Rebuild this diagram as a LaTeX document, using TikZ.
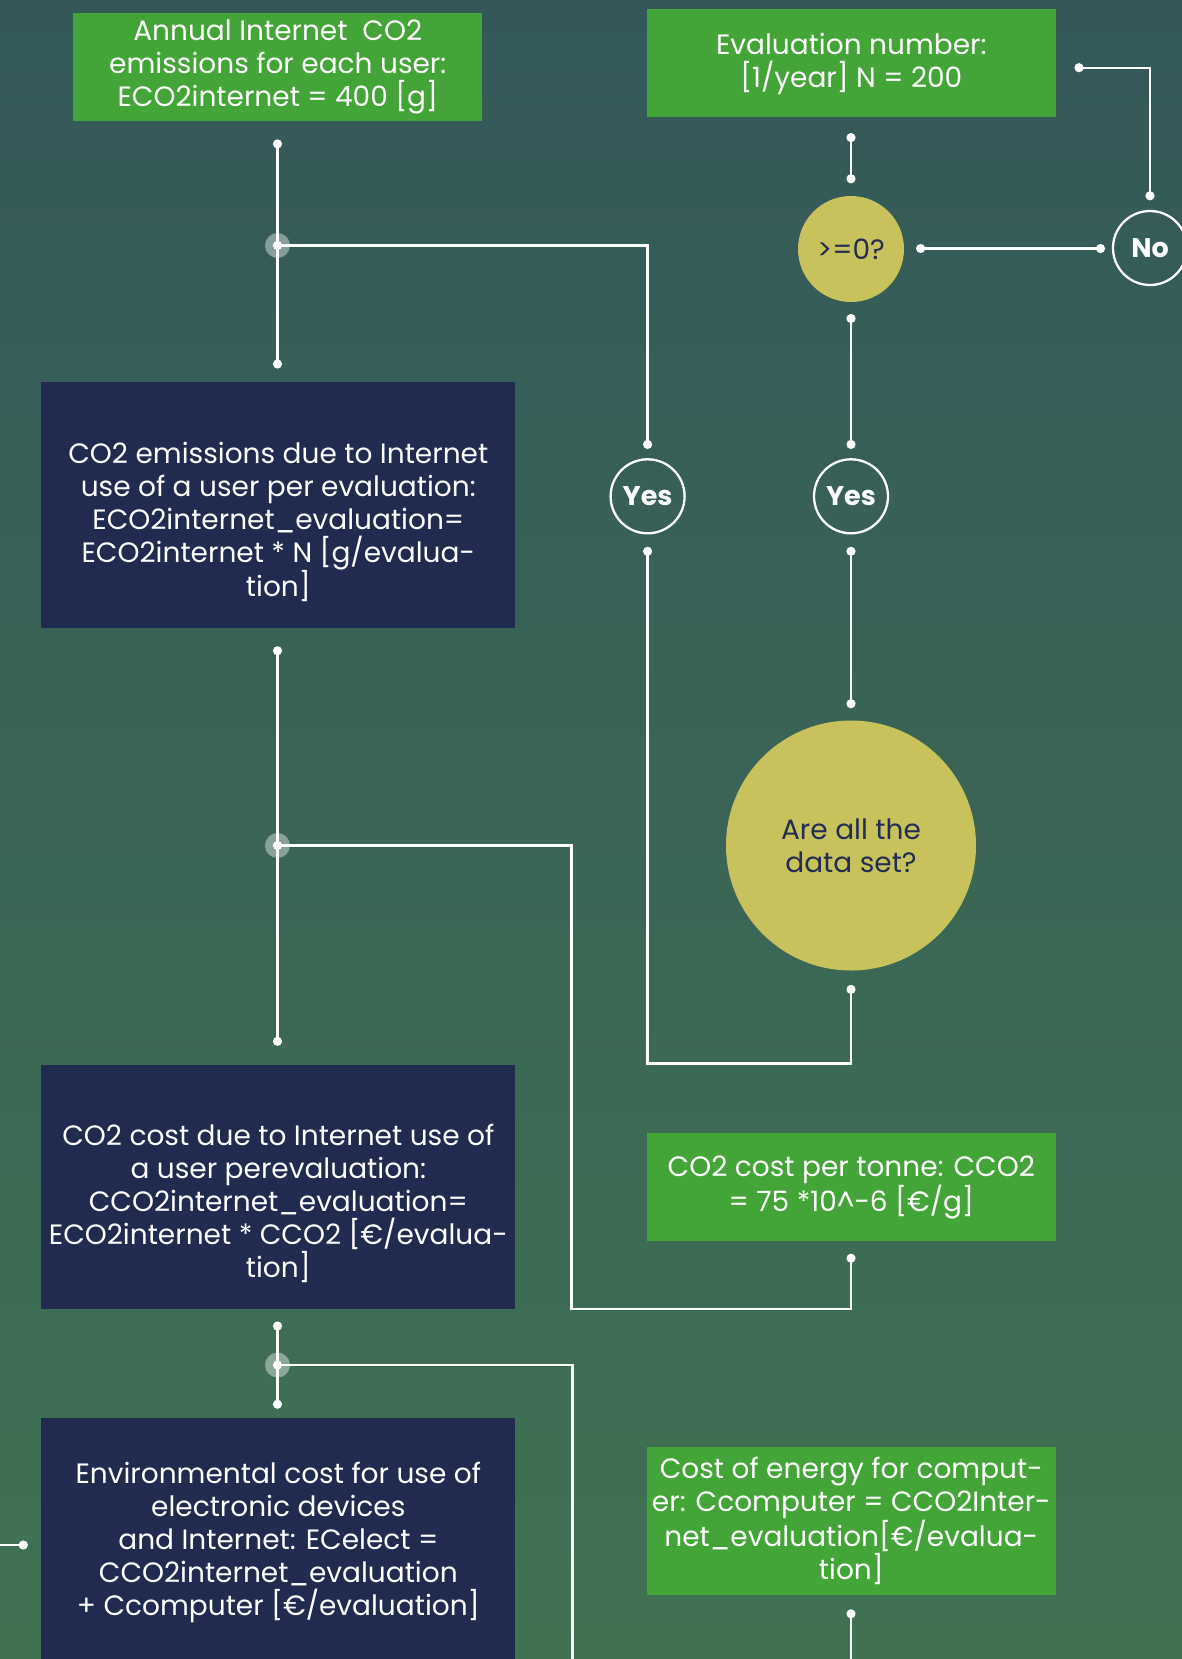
\documentclass[tikz,border=0pt]{standalone}
\usepackage{fontspec}
\setmainfont{Poppins}
\usetikzlibrary{calc}
\definecolor{bgtop}{RGB}{52,88,90}
\definecolor{bgbot}{RGB}{64,114,82}
\definecolor{boxgreen}{RGB}{67,165,55}
\definecolor{boxnavy}{RGB}{33,43,80}
\definecolor{qyellow}{RGB}{200,194,92}
\definecolor{qtext}{RGB}{35,44,82}
\tikzset{
  txtfont/.style={font=\fontsize{28}{33}\selectfont},
  greenbox/.style={fill=boxgreen, text=white, minimum width=409pt, align=center, inner sep=0pt, txtfont},
  navybox/.style={fill=boxnavy, minimum width=474pt, inner sep=0pt},
  navytxt/.style={text=white, align=center, inner sep=0pt, txtfont},
  answer/.style={circle, draw=white, line width=2.3pt, minimum size=74pt, inner sep=0pt, text=white, font=\bfseries\fontsize{27}{30}\selectfont},
  question/.style={circle, fill=qyellow, text=qtext, inner sep=0pt, align=center, txtfont},
  wire/.style={draw=white, line width=2.3pt},
  halo/.style={fill=white, fill opacity=0.4},
}
\begin{document}
\begin{tikzpicture}[x=1pt,y=-1pt]
\useasboundingbox (0,0) rectangle (1182,1659);
\clip (0,0) rectangle (1182,1659);
\shade[top color=bgtop, bottom color=bgbot] (0,0) rectangle (1182,1659);

% boxes
\node[greenbox, minimum height=108pt] (A) at (277.8,67) {Annual Internet\ \ CO2\\emissions for each user:\\ECO2internet = 400 [g]};
\node[greenbox, minimum height=108pt] (B) at (851.3,63.5) {Evaluation number:\\{}[1/year] N = 200};
\node[navybox, minimum height=245.5pt] (C) at (278.3,504.8) {};
\node[navytxt] (Ct) at (278.3,522) {CO2 emissions due to Internet\\use of a user per evaluation:\\ECO2internet\_evaluation=\\ECO2internet * N [g/evalua-\\tion]};
\node[navybox, minimum height=244.4pt] (D) at (278.3,1186.8) {};
\node[navytxt] (Dt) at (278.3,1203) {CO2 cost due to Internet use of\\a user perevaluation:\\CCO2internet\_evaluation=\\ECO2internet * CCO2 [€/evalua-\\tion]};
\node[greenbox, minimum height=108pt] (E) at (851.3,1187.3) {CO2 cost per tonne: CCO2\\= 75 *10\textasciicircum-6 [€/g]};
\node[navybox, minimum height=282pt] (F) at (278.3,1559) {};
\node[navytxt] (Ft) at (278.3,1542) {Environmental cost for use of\\electronic devices\\and Internet: ECelect =\\CCO2internet\_evaluation\\+ Ccomputer [€/evaluation]};
\node[greenbox, minimum height=148pt] (G) at (851.3,1520.7) {Cost of energy for comput-\\er: Ccomputer = CCO2Inter-\\net\_evaluation[€/evalua-\\tion]};

% decision circles
\node[question, minimum size=106pt] (Q1) at (851,249) {>=0?};
\node[question, minimum size=250pt] (Q2) at (851,845.5) {Are all the\\data set?};
\node[answer] (No) at (1150,248) {No};
\node[answer] (Y1) at (647.6,496.3) {Yes};
\node[answer] (Y2) at (851,496.3) {Yes};

% connector end points
\coordinate (a1) at (277.5,143.9);
\coordinate (a2) at (277.5,364);
\coordinate (j1) at (277.5,245.5);
\coordinate (b1) at (851,137.6);
\coordinate (b2) at (851,178.8);
\coordinate (q1b) at (851,318.5);
\coordinate (y2t) at (851,444.4);
\coordinate (q1r) at (920.6,248.5);
\coordinate (not) at (1100.5,248.5);
\coordinate (br) at (1079,67.7);
\coordinate (nt) at (1150,195.8);
\coordinate (y1t) at (647.6,444.4);
\coordinate (y1b) at (647.6,551.3);
\coordinate (y2b) at (851,551.3);
\coordinate (q2t) at (851,703.7);
\coordinate (q2b) at (851,989.4);
\coordinate (c1) at (277.5,650.8);
\coordinate (c2) at (277.5,1041.3);
\coordinate (j2) at (277.5,845.5);
\coordinate (e1) at (851,1258.2);
\coordinate (d1) at (277.5,1326);
\coordinate (d2) at (277.5,1404.2);
\coordinate (j3) at (277.5,1365);
\coordinate (fl) at (23.3,1545);
\coordinate (flx) at (-5,1545);
\coordinate (g1) at (851,1613.8);
\coordinate (gx) at (851,1670);
\coordinate (j3x) at (572.5,1670);

% connectors
\draw[wire] (a1) -- (a2);
\draw[wire] (j1) -| (y1t);
\draw[wire] (b1) -- (b2);
\draw[wire] (q1b) -- (y2t);
\draw[wire] (q1r) -- (not);
\draw[wire] (br) -| (nt);
\draw[wire] (y2b) -- (q2t);
\draw[wire] (q2b) -- ++(0,74.1) -| (y1b);
\draw[wire] (c1) -- (c2);
\draw[wire] (j2) -- (571.4,845.5) |- (851,1309) -- (e1);
\draw[wire] (d1) -- (d2);
\draw[wire] (j3) -| (j3x);
\draw[wire] (flx) -- (fl);
\draw[wire] (g1) -- (gx);

% halos and dots
\foreach \j in {j1,j2,j3} \fill[halo] (\j) circle (12.5pt);
\foreach \p in {a1,a2,j1,b1,b2,q1b,y2t,q1r,not,br,nt,y1t,y1b,y2b,q2t,q2b,c1,c2,j2,e1,d1,d2,j3,fl,g1}
  \fill[white] (\p) circle (4.6pt);
\end{tikzpicture}
\end{document}
